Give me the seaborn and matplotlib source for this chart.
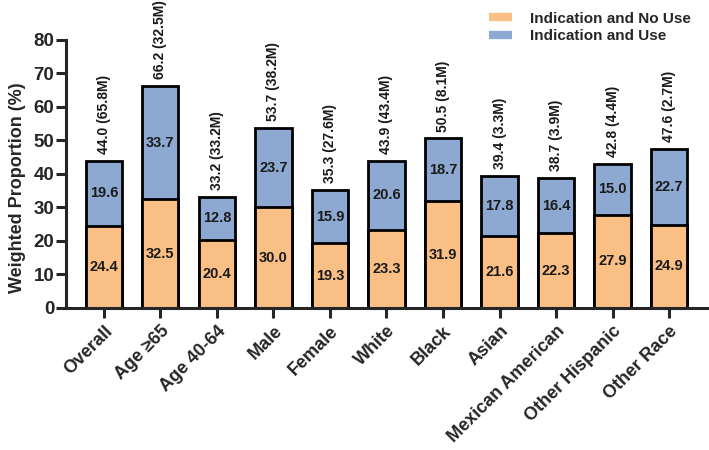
import matplotlib
matplotlib.use('Agg')
import matplotlib.pyplot as plt
import seaborn as sns
import pandas as pd
from matplotlib.lines import Line2D

sns.set_style('ticks')
plt.rcParams['font.family'] = ['Liberation Sans', 'DejaVu Sans']
plt.rcParams['font.weight'] = 'bold'

groups = ['Overall', 'Age ≥65', 'Age 40-64', 'Male', 'Female', 'White', 'Black',
          'Asian', 'Mexican American', 'Other Hispanic', 'Other Race']
no_use = [24.4, 32.5, 20.4, 30.0, 19.3, 23.3, 31.9, 21.6, 22.3, 27.9, 24.9]
use = [19.6, 33.7, 12.8, 23.7, 15.9, 20.6, 18.7, 17.8, 16.4, 15.0, 22.7]
totals = [44.0, 66.2, 33.2, 53.7, 35.3, 43.9, 50.5, 39.4, 38.7, 42.8, 47.6]
millions = [65.8, 32.5, 33.2, 38.2, 27.6, 43.4, 8.1, 3.3, 3.9, 4.4, 2.7]

orange = '#F9BF84'
blue = '#8DA9D2'

df = pd.DataFrame({'group': groups, 'no_use': no_use, 'use': use})
df['stack'] = df['no_use'] + df['use']

fig = plt.figure(figsize=(7.09, 4.5), dpi=100)
ax = fig.add_axes([0.0931, 0.3156, 0.904, 0.5956])

sns.barplot(data=df, x='group', y='stack', color=blue, width=0.64,
            edgecolor='black', linewidth=2, saturation=1, ax=ax)
sns.barplot(data=df, x='group', y='no_use', color=orange, width=0.64,
            edgecolor='black', linewidth=2, saturation=1, ax=ax)

for i in range(len(groups)):
    ax.text(i, no_use[i] / 2, f'{no_use[i]:.1f}', ha='center', va='center',
            fontsize=10.5, fontweight='bold', color='#1a1a1a')
    ax.text(i, no_use[i] + use[i] / 2, f'{use[i]:.1f}', ha='center', va='center',
            fontsize=10.5, fontweight='bold', color='#1a1a1a')
    ax.annotate(f'{totals[i]:.1f} ({millions[i]:.1f}M)', xy=(i, no_use[i] + use[i]),
                xytext=(0, 5), textcoords='offset points', rotation=90,
                ha='center', va='bottom', fontsize=10, fontweight='bold',
                color='#1a1a1a')

ax.set_xlim(-0.67, 10.67)
ax.set_ylim(0, 80)
ax.set_yticks(range(0, 81, 10))
ax.set_xlabel('')
ax.set_ylabel('Weighted Proportion (%)', fontsize=13, fontweight='bold')
ax.yaxis.set_label_coords(-0.062, 0.45)

sns.despine(ax=ax)
for s in ['left', 'bottom']:
    ax.spines[s].set_linewidth(2.2)
ax.tick_params(axis='both', width=2.2, length=7.5, labelsize=13.5)
ax.tick_params(axis='y', pad=1)
ax.tick_params(axis='x', pad=3)
ax.set_xticks(range(len(groups)))
ax.set_xticklabels(groups, rotation=45, ha='right', rotation_mode='anchor',
                   fontsize=13, fontweight='bold')
for lab in ax.get_yticklabels():
    lab.set_fontweight('bold')

handles = [Line2D([0], [0], color=orange, lw=6, solid_capstyle='butt'),
           Line2D([0], [0], color=blue, lw=6, solid_capstyle='butt')]
fig.legend(handles, ['Indication and No Use', 'Indication and Use'],
           loc='upper left', bbox_to_anchor=(0.67, 1.005), frameon=False,
           prop={'size': 11, 'weight': 'bold'}, handlelength=1.5,
           handletextpad=1.2, labelspacing=0.25)

fig.savefig('out.png', dpi=100)
